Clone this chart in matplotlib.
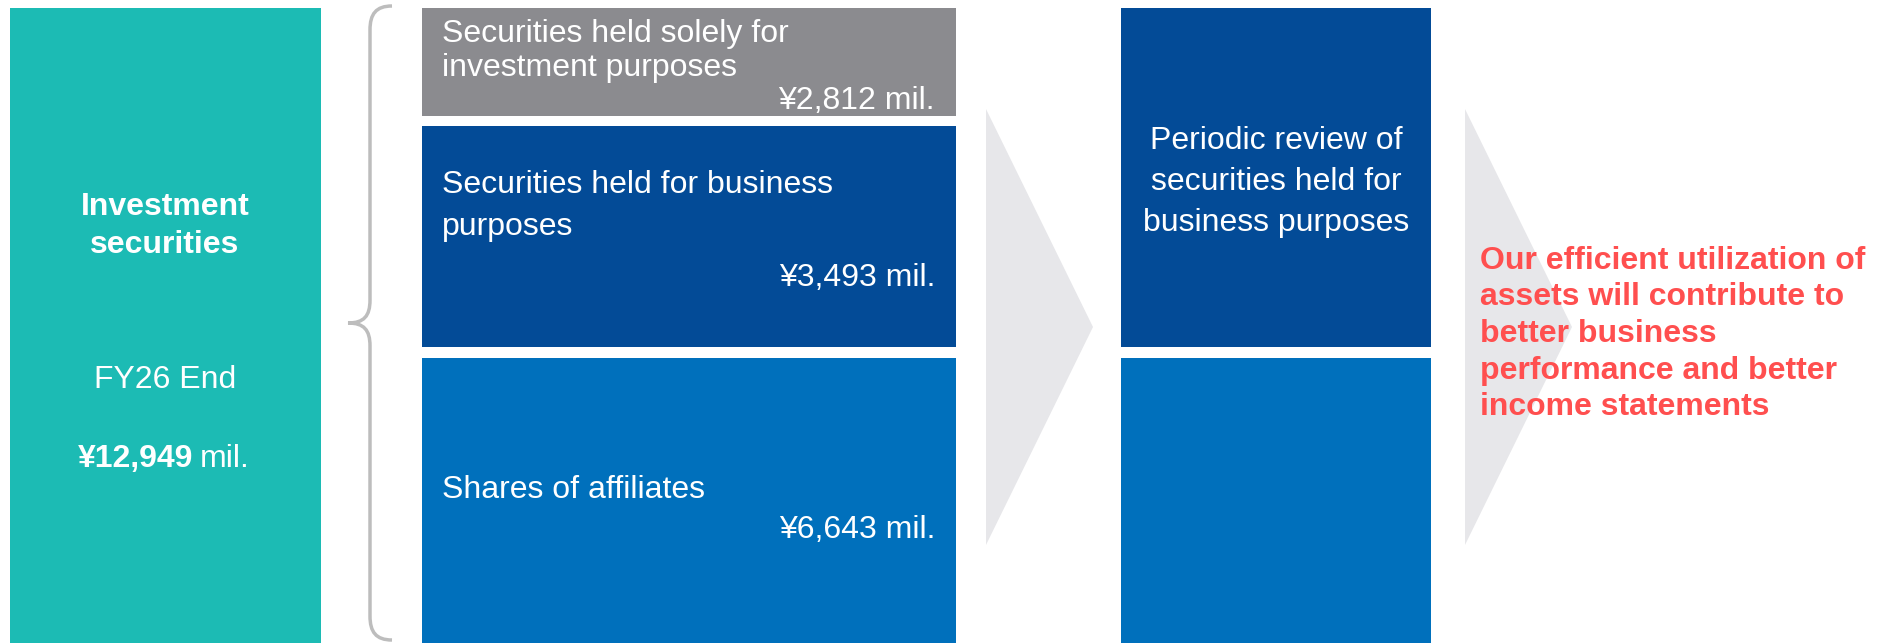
import matplotlib.pyplot as plt
from matplotlib.patches import Rectangle, Polygon, PathPatch
from matplotlib.path import Path

plt.rcParams["font.family"] = ["Liberation Sans", "DejaVu Sans"]

# data
total_label = ["Investment", "securities"]
total_period = "FY26 End"
total_value = 12949
segment_names = [
    "Securities held solely for\ninvestment purposes",
    "Securities held for business\npurposes",
    "Shares of affiliates",
]
segment_values = [2812, 3493, 6643]
review_text = "Periodic review of\nsecurities held for\nbusiness purposes"
result_text = ("Our efficient utilization of\nassets will contribute to\n"
               "better business\nperformance and better\nincome statements")

TEAL = "#1CBBB4"
GRAY = "#8B8B8F"
DARK_BLUE = "#034B97"
MID_BLUE = "#0070BC"
ARROW = "#E7E7EA"
RED = "#FF4F4F"
BRACE = "#BDBDBD"
FS = 23


def money(v):
    return f"¥{v:,} mil."


fig = plt.figure(figsize=(18.92, 6.43), dpi=100)
ax = fig.add_axes([0, 0, 1, 1])
ax.set_xlim(0, 1892)
ax.set_ylim(643, 0)
ax.axis("off")

# left total box
ax.add_patch(Rectangle((10, 8), 311, 640, color=TEAL, lw=0))
ax.text(165, 226, "\n".join(total_label), ha="center", va="center", color="white",
        fontsize=FS, fontweight="bold", linespacing=1.38)
ax.text(165, 380, total_period, ha="center", va="center", color="white", fontsize=FS)
ax.text(193, 459, f"¥{total_value:,}", ha="right", va="center", color="white",
        fontsize=FS, fontweight="bold")
ax.text(200, 459, "mil.", ha="left", va="center", color="white", fontsize=FS)

# brace
verts = [(392, 6), (376, 6), (370, 14), (370, 30),
         (370, 300),
         (370, 316), (364, 323), (348, 323),
         (364, 323), (370, 330), (370, 346),
         (370, 616),
         (370, 632), (376, 640), (392, 640)]
codes = [Path.MOVETO, Path.CURVE4, Path.CURVE4, Path.CURVE4,
         Path.LINETO,
         Path.CURVE4, Path.CURVE4, Path.CURVE4,
         Path.CURVE4, Path.CURVE4, Path.CURVE4,
         Path.LINETO,
         Path.CURVE4, Path.CURVE4, Path.CURVE4]
ax.add_patch(PathPatch(Path(verts, codes), fill=False, edgecolor=BRACE, lw=2.5))

# segment boxes
box_x, box_w = 422, 534
seg_top = [8, 126, 358]
seg_bot = [116, 347, 648]
seg_colors = [GRAY, DARK_BLUE, MID_BLUE]
name_y = [51, 206, 490]
name_ls = [1.15, 1.5, 1.2]
val_y = [101, 278, 530]
for name, val, t, b, c, ny, ls, vy in zip(segment_names, segment_values, seg_top,
                                           seg_bot, seg_colors, name_y, name_ls, val_y):
    ax.add_patch(Rectangle((box_x, t), box_w, b - t, color=c, lw=0))
    ax.text(442, ny, name, ha="left", va="center", color="white", fontsize=FS,
            linespacing=ls)
    ax.text(935, vy, money(val), ha="right", va="center", color="white", fontsize=FS)

# arrows
for left in (986, 1465):
    ax.add_patch(Polygon([(left, 109), (left + 107, 327), (left, 545)],
                         closed=True, color=ARROW, lw=0))

# review column
ax.add_patch(Rectangle((1121, 8), 310, 339, color=DARK_BLUE, lw=0))
ax.add_patch(Rectangle((1121, 358), 310, 290, color=MID_BLUE, lw=0))
ax.text(1276, 182, review_text, ha="center", va="center", color="white",
        fontsize=FS, linespacing=1.49)

# result text
ax.text(1480, 334, result_text, ha="left", va="center", color=RED, fontsize=FS,
        fontweight="bold", linespacing=1.29)

fig.savefig("out.png", dpi=100)
